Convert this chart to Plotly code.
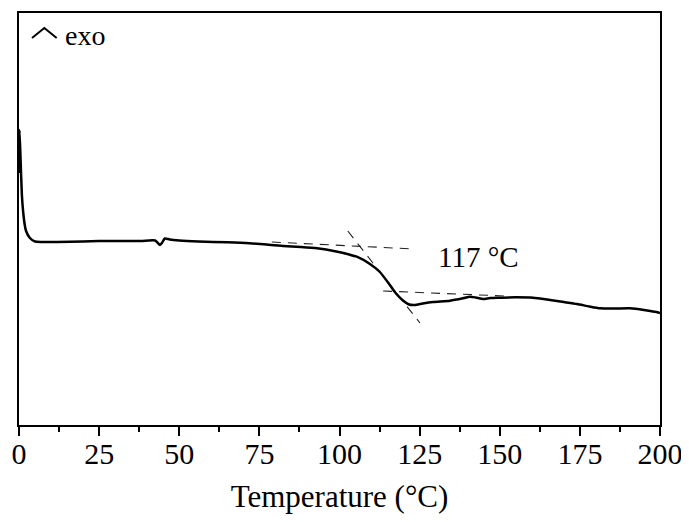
import plotly.graph_objects as go

# DSC curve (temperature in °C, heat flow in arbitrary units, exo up)
temp = [0, 0.05, 0.15, 0.5, 0.9, 1.3, 1.8, 2.2, 3.4, 5.0, 7, 12, 20, 25, 30, 38, 42.5, 44.0,
        44.6, 45.5, 47, 50, 56, 65, 72, 82.4, 88, 93, 99, 103, 105.4, 109.5, 112.6, 115.7,
        117.5, 119.8, 121.7, 123.5, 126, 129.2, 134.5, 138.5, 140.7, 142.5, 144.8, 147,
        150.1, 155, 160.4, 165.7, 170, 174.1, 178, 181.3, 186, 190.6, 195, 199.7, 200]
heat = [2.52, 2.75, 2.95, 2.65, 2.30, 2.13, 2.00, 1.94, 1.87, 1.835, 1.83, 1.83, 1.835, 1.84,
        1.84, 1.84, 1.845, 1.80, 1.82, 1.865, 1.855, 1.845, 1.835, 1.827, 1.817, 1.79, 1.78,
        1.767, 1.735, 1.705, 1.683, 1.61, 1.53, 1.40, 1.32, 1.245, 1.205, 1.20, 1.215, 1.23,
        1.243, 1.267, 1.283, 1.275, 1.26, 1.27, 1.273, 1.277, 1.273, 1.25, 1.23, 1.21,
        1.185, 1.167, 1.165, 1.167, 1.15, 1.123, 1.12]

# Tangent construction lines for the glass transition
tan_upper_t = [78.9, 123.2]
tan_upper_y = [1.83, 1.76]
tan_steep_t = [102.6, 125.1]
tan_steep_y = [1.94, 1.02]
tan_lower_t = [113.6, 151.6]
tan_lower_y = [1.34, 1.29]

tg_label = "117 °C"
tg_label_pos = (143.5, 1.68)

x_ticks = [0, 25, 50, 75, 100, 125, 150, 175, 200]

FONT = "Liberation Serif"

fig = go.Figure()
tangents = [(tan_upper_t, tan_upper_y, "x"), (tan_steep_t, tan_steep_y, "x"),
            (tan_lower_t, tan_lower_y, "x2")]
for tx, ty, xa in tangents:
    fig.add_trace(go.Scatter(x=tx, y=ty, mode="lines", xaxis=xa,
                             line=dict(color="#222222", width=1.1, dash="9px,7px"),
                             hoverinfo="skip", showlegend=False))
fig.add_trace(go.Scatter(x=temp, y=heat, mode="lines",
                         line=dict(color="black", width=2.5, shape="spline", smoothing=0.6),
                         showlegend=False))

fig.add_annotation(x=tg_label_pos[0], y=tg_label_pos[1], text=tg_label, showarrow=False,
                   xanchor="center", yanchor="middle",
                   font=dict(family=FONT, size=29, color="black"))
fig.add_annotation(x=0.103, y=0.945, xref="paper", yref="paper", text="exo", showarrow=False,
                   xanchor="center", yanchor="middle",
                   font=dict(family=FONT, size=28, color="black"))
# exo arrow-head marker
fig.add_shape(type="path", xref="paper", yref="paper",
              path="M 0.0203 0.9393 L 0.0395 0.9636 L 0.0588 0.9393",
              line=dict(color="black", width=2))

# page body adds an 8px offset; the figure is sized so the plot sits where the reference has it
fig.update_layout(
    width=681, height=514,
    margin=dict(l=11, r=29, t=5, b=97),
    paper_bgcolor="white", plot_bgcolor="white",
    font=dict(family=FONT, size=30, color="black"),
    showlegend=False,
)
# axis carrying the line and tick marks
fig.update_layout(xaxis=dict(
    range=[0, 200], tickvals=x_ticks, showticklabels=False,
    showline=True, linecolor="black", linewidth=1.5, mirror=True,
    ticks="outside", ticklen=9, tickwidth=1.5, tickcolor="black",
    minor=dict(dtick=12.5, tick0=0, ticks="outside", ticklen=5, tickwidth=1.5, tickcolor="black"),
    showgrid=False, zeroline=False, automargin=False,
))
# overlaid axis carrying the tick labels and the title
fig.update_layout(xaxis2=dict(
    range=[0, 200], tickvals=x_ticks, ticktext=[str(v) for v in x_ticks],
    overlaying="x", side="bottom", anchor="y",
    showline=False, ticks="", showgrid=False, zeroline=False, automargin=False,
    ticklabelstandoff=8,
    tickfont=dict(family=FONT, size=30),
    title=dict(text="Temperature (°C)", font=dict(family=FONT, size=31), standoff=16),
))
fig.update_yaxes(
    range=[0, 4.12], showticklabels=False, ticks="",
    showline=True, linecolor="black", linewidth=1.5, mirror=True,
    showgrid=False, zeroline=False, automargin=False,
)

fig.write_html("out.html")
